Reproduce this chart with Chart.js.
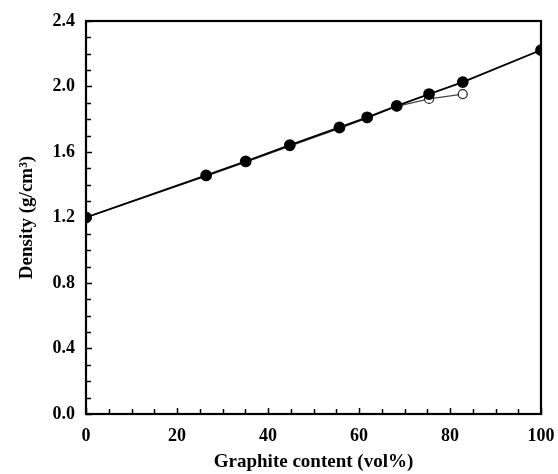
<!DOCTYPE html>
<html lang="en">
<head>
    <meta charset="UTF-8">
    <title>Density vs graphite content</title>
    <script src="https://cdn.jsdelivr.net/npm/chart.js"></script>
    <style>
        html, body { margin: 0; padding: 0; background: #fff; }
        #wrap { width: 558px; height: 474px; }
    </style>
</head>
<body>
    <div id="wrap"><canvas id="densityChart" width="558" height="474"></canvas></div>
    <script>
        // values
        const graphiteVol = [0, 26.4, 35.1, 44.8, 55.7, 61.8, 68.3, 75.4, 82.8, 100];
        const densityFilled = [1.20, 1.457, 1.543, 1.642, 1.750, 1.812, 1.882, 1.954, 2.027, 2.222];
        const graphiteVolOpen = [0, 26.4, 35.1, 44.8, 55.7, 61.8, 68.3, 75.4, 82.8];
        const densityOpen = [1.20, 1.452, 1.538, 1.636, 1.744, 1.806, 1.879, 1.924, 1.954];
        const xTickLabels = [0, 20, 40, 60, 80, 100];
        const yTickLabels = [0.0, 0.4, 0.8, 1.2, 1.6, 2.0, 2.4];

        const serif = "'Liberation Serif', 'Times New Roman', serif";

        const toPoints = (xs, ys) => xs.map((x, i) => ({ x: x, y: ys[i] }));

        // frame and inward ticks
        const frameTicks = {
            id: 'frameTicks',
            afterDatasetsDraw(chart) {
                const ctx = chart.ctx;
                const a = chart.chartArea;
                const xs = chart.scales.x, ys = chart.scales.y;
                ctx.save();
                ctx.strokeStyle = '#000';
                ctx.lineWidth = 1.5;
                for (let v = 0; v <= 100; v += 5) {
                    const px = Math.round(xs.getPixelForValue(v)) + 0.5;
                    const len = (v % 20 === 0) ? 6 : 5;
                    ctx.beginPath();
                    ctx.moveTo(px, a.bottom);
                    ctx.lineTo(px, a.bottom - len);
                    ctx.stroke();
                }
                for (let i = 0; i <= 24; i++) {
                    const py = Math.round(ys.getPixelForValue(i / 10)) + 0.5;
                    const len = (i % 4 === 0) ? 6 : 5;
                    ctx.beginPath();
                    ctx.moveTo(a.left, py);
                    ctx.lineTo(a.left + len, py);
                    ctx.stroke();
                }
                ctx.lineWidth = 2.2;
                ctx.strokeRect(a.left, a.top, a.right - a.left, a.bottom - a.top);
                ctx.restore();
            }
        };

        const ctx = document.getElementById('densityChart').getContext('2d');
        new Chart(ctx, {
            type: 'scatter',
            data: {
                datasets: [{
                    label: 'filled',
                    data: toPoints(graphiteVol, densityFilled),
                    showLine: true,
                    borderColor: '#000',
                    borderWidth: 1.8,
                    backgroundColor: '#000',
                    pointBackgroundColor: '#000',
                    pointBorderColor: '#000',
                    pointRadius: 5,
                    order: 0
                }, {
                    label: 'open',
                    data: toPoints(graphiteVolOpen, densityOpen),
                    showLine: true,
                    borderColor: '#444',
                    borderWidth: 1.2,
                    pointBackgroundColor: '#fff',
                    pointBorderColor: '#222',
                    pointBorderWidth: 1.2,
                    pointRadius: 4.5,
                    order: 1
                }]
            },
            options: {
                responsive: false,
                animation: false,
                layout: { padding: { top: 21, right: 17, left: 0, bottom: 0 } },
                plugins: {
                    legend: { display: false },
                    tooltip: { enabled: false }
                },
                scales: {
                    x: {
                        type: 'linear',
                        min: 0,
                        max: 100,
                        afterBuildTicks: s => { s.ticks = xTickLabels.map(v => ({ value: v })); },
                        afterFit: s => { s.height = 60; s.paddingLeft = 0; s.paddingRight = 0; },
                        grid: { display: false, drawTicks: false },
                        border: { display: false },
                        ticks: {
                            color: '#000',
                            padding: 12,
                            maxRotation: 0,
                            font: { family: serif, size: 18, weight: 'bold' }
                        },
                        title: {
                            display: true,
                            text: 'Graphite content (vol%)',
                            color: '#000',
                            padding: { top: 0, bottom: 1 },
                            font: { family: serif, size: 19, weight: 'bold' }
                        }
                    },
                    y: {
                        type: 'linear',
                        min: 0,
                        max: 2.4,
                        afterBuildTicks: s => { s.ticks = yTickLabels.map(v => ({ value: v })); },
                        afterFit: s => { s.width = 86; s.paddingTop = 0; s.paddingBottom = 0; },
                        grid: { display: false, drawTicks: false },
                        border: { display: false },
                        ticks: {
                            color: '#000',
                            padding: 11,
                            font: { family: serif, size: 18, weight: 'bold' },
                            callback: v => v.toFixed(1)
                        },
                        title: {
                            display: true,
                            text: 'Density (g/cm\u00B3)',
                            color: '#000',
                            padding: { top: 16, bottom: 0 },
                            font: { family: serif, size: 19, weight: 'bold' }
                        }
                    }
                }
            },
            plugins: [frameTicks]
        });
    </script>
</body>
</html>
